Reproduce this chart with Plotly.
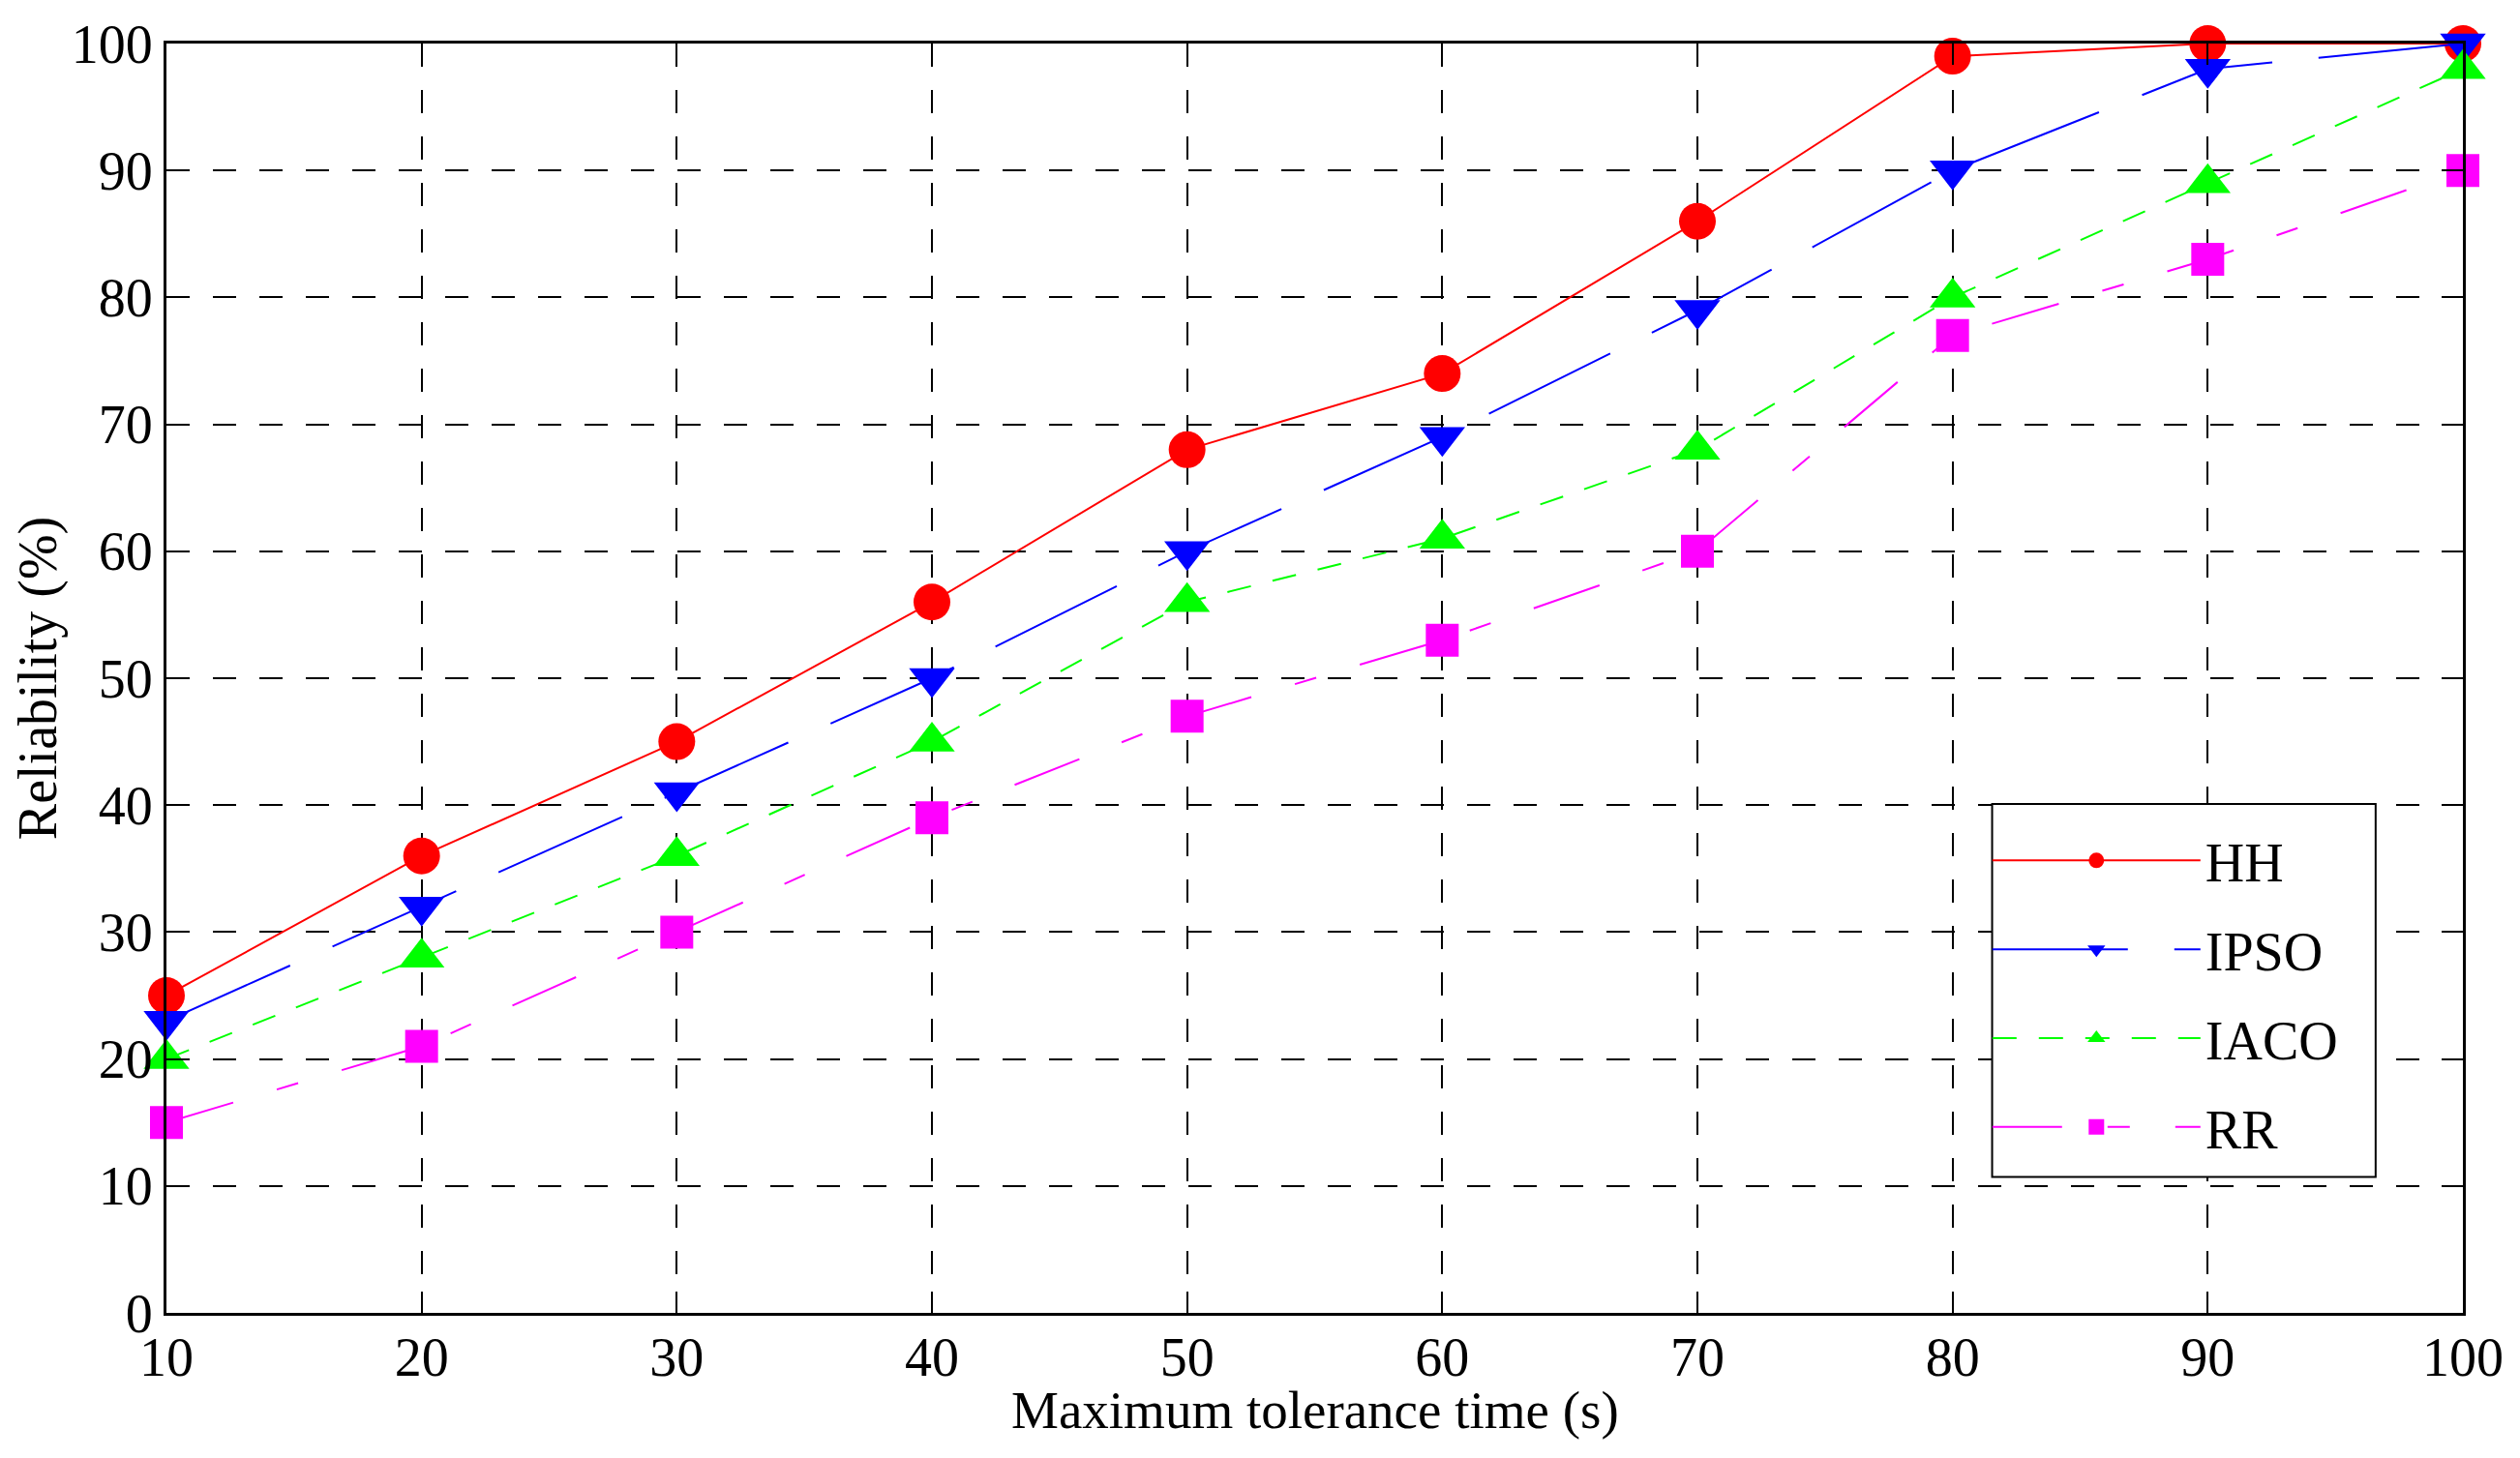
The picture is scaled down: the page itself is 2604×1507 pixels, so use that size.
import plotly.graph_objects as go

# tolerance time (s) and reliability (%) per algorithm
times = [10, 20, 30, 40, 50, 60, 70, 80, 90, 100]
hh = [25, 36, 45, 56, 68, 74, 86, 99, 100, 100]
ipso = [23, 32, 41, 50, 60, 69, 79, 90, 98, 100]
iaco = [20, 28, 36, 45, 56, 61, 68, 80, 89, 98]
rr = [15, 21, 30, 39, 47, 53, 60, 77, 83, 90]

series = [
    ("HH", hh, "#ff0000", "solid", "circle", 38),
    ("IPSO", ipso, "#0000ff", "140px,48px", "triangle-down", 41),
    ("IACO", iaco, "#00ff00", "25px,23px", "triangle-up", 41),
    ("RR", rr, "#ff00ff", "72px,47px,23px,47px", "square", 34),
]

FONT = "Liberation Serif"

fig = go.Figure()
for name, vals, col, dash, sym, size in series:
    fig.add_trace(go.Scatter(
        x=times, y=vals, name=name, mode="lines+markers",
        legendgroup=name,
        line=dict(color=col, width=2, dash=dash),
        marker=dict(symbol=sym, size=size, color=col, line=dict(width=0)),
        cliponaxis=False,
    ))

axis_common = dict(
    showline=True, linecolor="black", linewidth=3, mirror="ticks",
    ticks="inside", ticklen=22, tickwidth=2, tickcolor="black",
    showgrid=True, gridcolor="black", gridwidth=2, griddash="24px,24px",
    zeroline=False, automargin=False,
    tickfont=dict(family=FONT, size=56, color="black"),
)

fig.update_xaxes(range=[10, 100], tickvals=times, ticklabelstandoff=-5,
                 **axis_common)
fig.update_yaxes(range=[0, 100], tickvals=list(range(0, 101, 10)),
                 title=dict(text="Reliability (%)",
                            font=dict(family=FONT, size=56, color="black"),
                            standoff=18),
                 **axis_common)

# x axis title placed just under the tick labels
fig.add_annotation(text="Maximum tolerance time (s)", xref="paper", yref="paper",
                   x=0.5, y=0, yanchor="middle", yshift=-100, showarrow=False,
                   font=dict(family=FONT, size=55, color="black"))

# legend frame (wider than plotly's own legend box)
fig.add_shape(type="rect", xref="paper", yref="paper",
              x0=0.795, x1=0.962, y0=0.107, y1=0.401,
              line=dict(color="black", width=2), fillcolor="white", layer="above")

# page body has an 8px margin, so the figure is kept 16px smaller
fig.update_layout(
    width=2588, height=1491,
    margin=dict(l=164, r=51, t=37, b=142),
    plot_bgcolor="white", paper_bgcolor="white",
    font=dict(family=FONT, color="black"),
    legend=dict(
        x=0.793, y=0.403, xanchor="left", yanchor="top",
        bgcolor="rgba(0,0,0,0)", borderwidth=0,
        font=dict(family=FONT, size=56, color="black"),
        title=dict(text=" ", font=dict(size=14)),
        itemwidth=215, tracegroupgap=16,
    ),
)

fig.write_html("out.html")
